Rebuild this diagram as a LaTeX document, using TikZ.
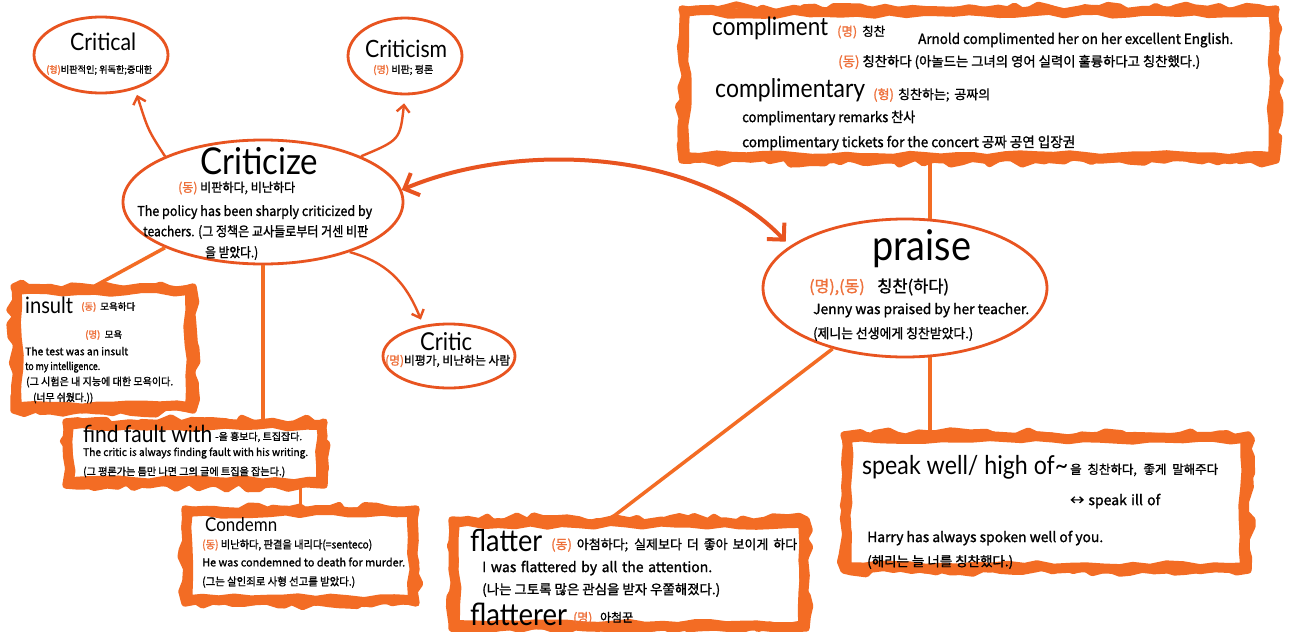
\documentclass[tikz,border=0pt]{standalone}
\usepackage{fontspec}
\usepackage{graphicx}
\setmainfont{Noto Sans CJK KR}[FakeBold=1.3]
\newfontfamily\headf{Lato}
\usetikzlibrary{shapes.geometric,decorations.pathmorphing,arrows.meta}
\definecolor{myor}{RGB}{243,108,36}
\definecolor{elor}{RGB}{232,84,32}
\definecolor{txor}{RGB}{238,112,58}
\newcommand\fsz[1]{\fontsize{#1}{#1}\selectfont}
\newsavebox\wlbox
\newcommand\wl[2]{\sbox\wlbox{#2}\ifdim\wd\wlbox<#1pt\makebox[#1pt][s]{#2}\else\resizebox{#1pt}{\height}{\usebox\wlbox}\fi}
\newcommand\hw[2]{\scalebox{1}[1.12]{\resizebox{#1pt}{!}{\headf\vphantom{(}#2}}}
\newcommand\oc[1]{\textcolor{txor}{#1}}
\begin{document}
\begin{tikzpicture}[x=1pt,y=-1pt,
  ell/.style={ellipse, draw=elor, line width=2.8pt, fill=white, inner sep=0pt},
  boxn/.style={rectangle, fill=white, draw=none, inner sep=0pt},
  wavya/.style={draw=myor, line width=10pt, line join=round, decorate, decoration={random steps, segment length=16pt, amplitude=2pt}},
  wavyb/.style={draw=myor, line width=7pt, line join=round, decorate, decoration={random steps, segment length=10pt, amplitude=4pt}},
  tx/.style={anchor=west, inner sep=0pt, execute at begin node={\vphantom{(}}},
  hd/.style={anchor=west, inner sep=0pt},
  con/.style={draw=myor, line width=3.5pt},
  arr/.style={draw=elor, line width=2.4pt, -{Straight Barb[length=7pt,width=13pt]}},
  darr/.style={draw=elor, line width=4pt, {Straight Barb[length=12pt,width=24pt]}-{Straight Barb[length=12pt,width=24pt]}}
]
\pgfmathsetseed{7}
\fill[white] (0,0) rectangle (1299,632);
\useasboundingbox (0,0) rectangle (1299,632);

% ellipses
\node[ell, minimum width=134pt, minimum height=76pt] (crl) at (101,55) {};
\node[ell, minimum width=114pt, minimum height=76pt] (csm) at (405,56) {};
\node[ell, minimum width=280pt, minimum height=124pt] (crz) at (263,202) {};
\node[ell, minimum width=132pt, minimum height=64pt] (crc) at (449,356) {};
\node[ell, minimum width=284pt, minimum height=138pt] (prs) at (905,288) {};

% boxes
\node[boxn, minimum width=173pt, minimum height=117pt] (ins) at (103.5,348.5) {};
\draw[wavya] (ins.north west) rectangle (ins.south east);
\draw[wavyb] ([shift={(-3,-3)}]ins.north west) rectangle ([shift={(3,3)}]ins.south east);

\node[boxn, minimum width=252pt, minimum height=57pt] (ff) at (195,453.5) {};
\draw[wavya] (ff.north west) rectangle (ff.south east);
\draw[wavyb] ([shift={(-3,-3)}]ff.north west) rectangle ([shift={(3,3)}]ff.south east);

\node[boxn, minimum width=225pt, minimum height=88pt] (cd) at (300.5,556) {};
\draw[wavya] (cd.north west) rectangle (cd.south east);
\draw[wavyb] ([shift={(-3,-3)}]cd.north west) rectangle ([shift={(3,3)}]cd.south east);

\node[boxn, minimum width=588pt, minimum height=145pt] (cmp) at (979,84.5) {};
\draw[wavya] (cmp.north west) rectangle (cmp.south east);
\draw[wavyb] ([shift={(-3,-3)}]cmp.north west) rectangle ([shift={(3,3)}]cmp.south east);

\node[boxn, minimum width=398pt, minimum height=129pt] (spk) at (1046,502.5) {};
\draw[wavya] (spk.north west) rectangle (spk.south east);
\draw[wavyb] ([shift={(-3,-3)}]spk.north west) rectangle ([shift={(3,3)}]spk.south east);

\node[boxn, minimum width=348pt, minimum height=102pt] (flt) at (629,574) {};
\draw[wavya] (flt.north west) rectangle (flt.south east);
\draw[wavyb] ([shift={(-3,-3)}]flt.north west) rectangle ([shift={(3,3)}]flt.south east);

% connectors
\draw[con] (crz.-155) -- ([xshift=71pt]ins.north west);
\draw[con] (crz.south) -- (crz.south |- ff.north);
\draw[con] (cd.north) -- (cd.north |- ff.south);
\draw[con] (prs.70) -- (prs.70 |- cmp.south);
\draw[con] (prs.-70) -- (prs.-70 |- spk.north);
\draw[con] (prs.-140) -- ([xshift=-24pt]flt.north);

% arrows
\draw[arr, shorten >=6pt] (crz.155) .. controls (148,130) .. (crl.-45);
\draw[arr, shorten >=8pt] (crz.25) .. controls (400,140) .. (csm.south);
\draw[arr, shorten >=6pt] (crz.-30) .. controls (385,262) and (405,280) .. (crc.130);
\draw[darr, shorten >=6pt] (crz.5) .. controls (520,140) and (700,150) .. (prs.160);

% Critical
\node[hd] (crl1) at (70,43) {\hw{66}{Critical}};
\node[tx,font=\fsz{9.5}] (crl2) at (46,70) {\wl{106}{\oc{(형)}비판적인; 위독한;중대한}};
% Criticism
\node[hd] (csm1) at (365,50) {\hw{82}{Criticism}};
\node[tx,font=\fsz{10}] (csm2) at (373,70) {\wl{60}{\oc{(명)} 비판; 평론}};
% Criticize
\node[hd] (crz1) at (200,163) {\hw{118}{Criticize}};
\node[tx,font=\fsz{12.5}] (crz2) at (178,188) {\wl{117}{\oc{(동)} 비판하다, 비난하다}};
\node[tx,font=\fsz{13.5}] (crz3) at (137,212) {\wl{235}{The policy has been sharply criticized by}};
\node[tx,font=\fsz{13.5}] (crz4) at (143,232) {\wl{225}{teachers. (그 정책은 교사들로부터 거센 비판}};
\node[tx,font=\fsz{13.5}] (crz5) at (205,253) {\wl{53}{을 받았다.)}};
% Critic
\node[hd] (crc1) at (420,343) {\hw{52}{Critic}};
\node[tx,font=\fsz{12}] (crc2) at (385,361) {\wl{125}{\oc{(명)}비평가, 비난하는 사람}};
% insult
\node[hd] (ins1) at (25,306) {\hw{48}{insult}};
\node[tx,font=\fsz{9.5}] (ins2) at (81,307) {\wl{54}{\oc{(동)} 모욕하다}};
\node[tx,font=\fsz{9.5}] (ins3) at (85,335) {\wl{37}{\oc{(명)} 모욕}};
\node[tx,font=\fsz{10.5}] (ins4) at (25,352) {\wl{103}{The test was an insult}};
\node[tx,font=\fsz{10.5}] (ins5) at (25,367) {\wl{75}{to my intelligence.}};
\node[tx,font=\fsz{10.5}] (ins6) at (26,382) {\wl{147}{(그 시험은 내 지능에 대한 모욕이다.}};
\node[tx,font=\fsz{10.5}] (ins7) at (33,398) {\wl{60}{(너무 쉬웠다.))}};
% find fault with
\node[hd] (ff1) at (83,435) {\hw{129}{find fault with}};
\node[tx,font=\fsz{10}] (ff2) at (215,437) {\wl{87}{-을 흉보다, 트집잡다.}};
\node[tx,font=\fsz{10.5}] (ff3) at (83,453) {\wl{225}{The critic is always finding fault with his writing.}};
\node[tx,font=\fsz{10.5}] (ff4) at (83,472) {\wl{202}{(그 평론가는 틈만 나면 그의 글에 트집을 잡는다.)}};
% Condemn
\node[hd] (cd1) at (205,526) {\hw{72}{Condemn}};
\node[tx,font=\fsz{11}] (cd2) at (202,545) {\wl{170}{\oc{(동)} 비난하다, 판결을 내리다(=senteco)}};
\node[tx,font=\fsz{11}] (cd3) at (202,563) {\wl{203}{He was condemned to death for murder.}};
\node[tx,font=\fsz{11}] (cd4) at (202,582) {\wl{153}{(그는 살인죄로 사형 선고를 받았다.)}};
% compliment
\node[hd] (cm1) at (712,28) {\hw{116}{compliment}};
\node[tx,font=\fsz{12.5}] (cm2) at (837,32) {\wl{48}{\oc{(명)} 칭찬}};
\node[tx,font=\fsz{14}] (cm3) at (918,40) {\wl{315}{Arnold complimented her on her excellent English.}};
\node[tx,font=\fsz{13.5}] (cm4) at (838,62) {\wl{362}{\oc{(동)} 칭찬하다 (아놀드는 그녀의 영어 실력이 훌륭하다고 칭찬했다.)}};
\node[hd] (cm5) at (715,90) {\hw{150}{complimentary}};
\node[tx,font=\fsz{13}] (cm6) at (873,95) {\wl{117}{\oc{(형)} 칭찬하는; 공짜의}};
\node[tx,font=\fsz{14}] (cm7) at (742,118) {\wl{173}{complimentary remarks 찬사}};
\node[tx,font=\fsz{14}] (cm8) at (742,143) {\wl{333}{complimentary tickets for the concert 공짜 공연 입장권}};
% praise
\node[hd] (pr1) at (872,248) {\hw{99}{praise}};
\node[tx,font=\fsz{16}] (pr2) at (809,287) {\oc{(명),(동)}};
\node[tx,font=\fsz{16.5}] (pr3) at (877,287) {칭찬(하다)};
\node[tx,font=\fsz{14}] (pr4) at (813,310) {\wl{216}{Jenny was praised by her teacher.}};
\node[tx,font=\fsz{13.5}] (pr5) at (813,334) {\wl{160}{(제니는 선생에게 칭찬받았다.)}};
% speak well
\node[hd] (sp1) at (862,467) {\hw{206}{speak well/ high of\textasciitilde}};
\node[tx,font=\fsz{12.5}] (sp2) at (1070,470) {\wl{148}{을 칭찬하다, 좋게 말해주다}};
\node[tx,font=\fsz{14}] (sp3) at (1070,501) {\wl{90}{↔ speak ill of}};
\node[tx,font=\fsz{14}] (sp4) at (867,538) {\wl{236}{Harry has always spoken well of you.}};
\node[tx,font=\fsz{13.5}] (sp5) at (867,562) {\wl{146}{(해리는 늘 너를 칭찬했다.)}};
% flatter
\node[hd] (fl1) at (470,542) {\hw{72}{flatter}};
\node[tx,font=\fsz{13}] (fl2) at (551,545) {\wl{246}{\oc{(동)} 아첨하다; 실제보다 더 좋아 보이게 하다}};
\node[tx,font=\fsz{14}] (fl3) at (482,568) {\wl{230}{I was flattered by all the attention.}};
\node[tx,font=\fsz{13.5}] (fl4) at (482,590) {\wl{238}{(나는 그토록 많은 관심을 받자 우쭐해졌다.)}};
\node[hd] (fl5) at (470,616) {\hw{97}{flatterer}};
\node[tx,font=\fsz{12}] (fl6) at (573,618) {\wl{60}{\oc{(명)} 아첨꾼}};
\end{tikzpicture}
\end{document}
